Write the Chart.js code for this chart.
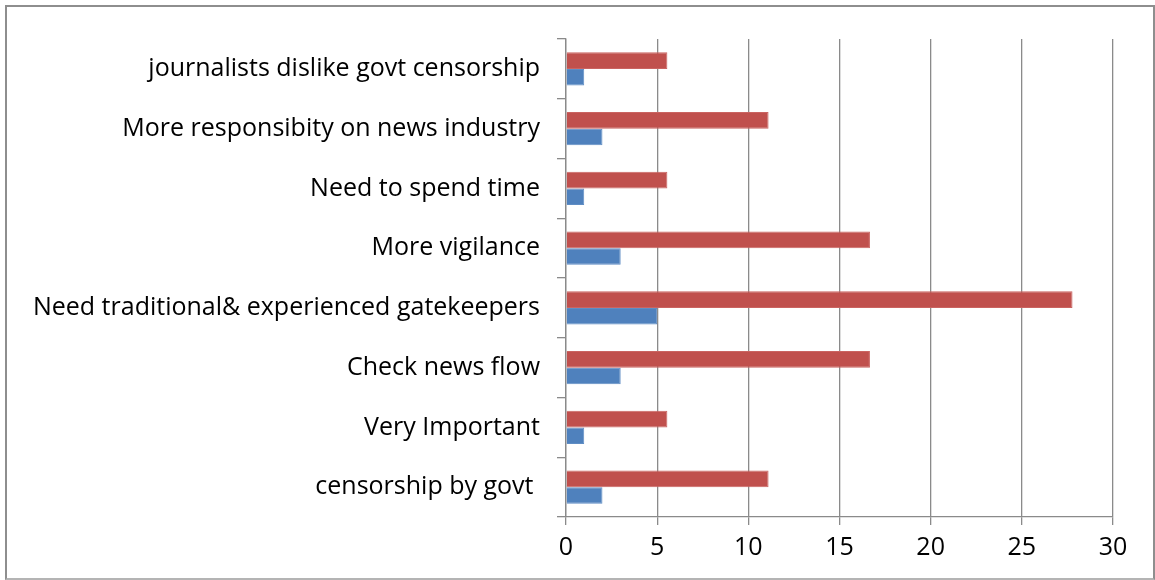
<!DOCTYPE html>
<html>
<head>
<meta charset="utf-8">
<script src="https://cdn.jsdelivr.net/npm/chart.js@4/dist/chart.umd.min.js"></script>
<style>
  html, body { margin: 0; padding: 0; background: #fff; }
  #frame {
    position: absolute;
    left: 5px;
    top: 5px;
    width: 1146px;
    height: 571px;
    border: 2px solid #8e8e8e;
    border-bottom-color: #b4b4b4;
    background: #fff;
  }
  #chart { display: block; }
</style>
</head>
<body>
<div id="frame"><canvas id="chart" width="1146" height="571"></canvas></div>
<script>
  // categories listed top to bottom, as they appear on the axis
  var categories = [
    "journalists dislike govt censorship",
    "More responsibity on news industry",
    "Need to spend time",
    "More vigilance",
    "Need traditional& experienced gatekeepers",
    "Check news flow",
    "Very Important",
    "censorship by govt "
  ];
  var percentValues = [5.56, 11.11, 5.56, 16.67, 27.78, 16.67, 5.56, 11.11];
  var countValues = [1, 2, 1, 3, 5, 3, 1, 2];
  var xTicks = [0, 5, 10, 15, 20, 25, 30];

  var AXIS_GRAY = "#8a8a8a";
  var LABEL_FONT = { family: "'Open Sans', Lato, sans-serif", size: 25 };

  Chart.defaults.animation = false;

  new Chart(document.getElementById("chart"), {
    type: "bar",
    data: {
      labels: categories,
      datasets: [
        {
          data: percentValues,
          backgroundColor: "#C0504D",
          borderColor: "#CA6461",
          borderWidth: 1,
          borderSkipped: "start",
          categoryPercentage: 0.56,
          barPercentage: 1.0
        },
        {
          data: countValues,
          backgroundColor: "#4F81BD",
          borderColor: "#5F8DC4",
          borderWidth: 1,
          borderSkipped: "start",
          categoryPercentage: 0.56,
          barPercentage: 1.0
        }
      ]
    },
    options: {
      indexAxis: "y",
      responsive: false,
      maintainAspectRatio: false,
      layout: { padding: { top: 28, right: 40, bottom: 0, left: 0 } },
      plugins: { legend: { display: false }, tooltip: { enabled: false } },
      scales: {
        x: {
          min: 0,
          max: 30,
          afterBuildTicks: function (scale) {
            scale.ticks = xTicks.map(function (v) { return { value: v }; });
          },
          afterFit: function (scale) { scale.height = 61; },
          grid: {
            color: AXIS_GRAY,
            lineWidth: 1.3,
            drawTicks: true,
            tickLength: 8
          },
          border: { display: true, color: AXIS_GRAY, width: 1.3 },
          ticks: { color: "#000", font: LABEL_FONT, padding: 8 }
        },
        y: {
          afterFit: function (scale) { scale.width = 559; },
          grid: {
            offset: true,
            drawOnChartArea: false,
            drawTicks: true,
            tickLength: 9,
            color: AXIS_GRAY,
            lineWidth: 1.3
          },
          border: { display: true, color: AXIS_GRAY, width: 1.3 },
          ticks: { color: "#000", font: LABEL_FONT, padding: 17, autoSkip: false }
        }
      }
    }
  });
</script>
</body>
</html>
